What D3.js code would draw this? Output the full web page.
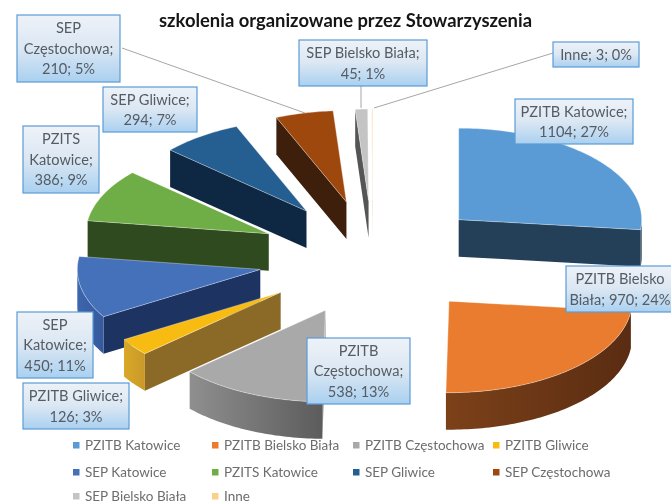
<!DOCTYPE html>
<html>
<head>
<meta charset="utf-8">
<script src="https://cdn.jsdelivr.net/npm/d3@7/dist/d3.min.js"></script>
<style>
html,body{margin:0;padding:0;background:#fff;overflow:hidden}
svg{display:block;filter:blur(0.65px)}
text{font-family:Lato,"Open Sans",sans-serif}
</style>
</head>
<body>
<svg id="c" width="671" height="504"></svg>
<script>
// ---- data ----
const titleText = "szkolenia organizowane przez Stowarzyszenia";
const categories = ["PZITB Katowice","PZITB Bielsko Biała","PZITB Częstochowa","PZITB Gliwice","SEP Katowice","PZITS Katowice","SEP Gliwice","SEP Częstochowa","SEP Bielsko Biała","Inne"];
const values = [1104,970,538,126,450,386,294,210,45,3];
const labelLines = [
  ["PZITB Katowice;","1104; 27%"],
  ["PZITB Bielsko","Biała; 970; 24%"],
  ["PZITB","Częstochowa;","538; 13%"],
  ["PZITB Gliwice;","126; 3%"],
  ["SEP","Katowice;","450; 11%"],
  ["PZITS","Katowice;","386; 9%"],
  ["SEP Gliwice;","294; 7%"],
  ["SEP","Częstochowa;","210; 5%"],
  ["SEP Bielsko Biała;","45; 1%"],
  ["Inne; 3; 0%"]
];
// ---- style ----
const topColors  = ["#5b9bd5","#e97c2e","#a9a9a9","#f8bb12","#4471ba","#6fad46","#255e91","#9e480e","#c4c4c4","#fbd08c"];
const wallColors = ["#243f58","#5e2f13","#6a6a6a","#8b6a28","#1d3463","#2f4a1f","#0e2743","#3e1f0b","#555555","#e8c48c"];
const sideFrom   = ["#243f58","#7c4119","#8f8f8f","#d9a827","#3d66ae","#3d6a28","#153a5c","#5a2c0c","#777777","#e8c48c"];
const sideTo     = ["#243f58","#5a2c12","#5c5c5c","#c9992a","#36599c","#3d6a28","#153a5c","#5a2c0c","#777777","#e8c48c"];
const drawOrder  = [0,1,2,9,8,7,6,5,4,3];
// ---- layout of the annotations ----
const labelBoxes = [
  [515,99,118,45],[566,266,108,46],[307,338,103,66],[23,383,106,46],[17,312,76,66],
  [23,126,76,67],[103,87,94,45],[17,15,103,67],[299,40,128,46],[553,42,86,25]
];
const leaders = {7:[[122,48],[305,113]],8:[[361,86],[361,108]],9:[[553,53],[374,108]]};
const legendCols = [73,212,353,493], legendRows = [445,472,496];

const W=671,H=504;
const svg=d3.select("#c");
const defs=svg.append("defs");

// squashed-circle projection of the exploded pie
const rx=183, ry=91.5, depth=37, explode=115/183, cx=373, cy=258;
const sx=d3.scaleLinear().domain([-1,1]).range([cx-rx,cx+rx]);
const sy=d3.scaleLinear().domain([-1,1]).range([cy-ry,cy+ry]);
const sz=d3.scaleLinear().domain([0,1]).range([0,depth]);

const pie=d3.pie().sort(null).value(d=>d).startAngle(0).endAngle(2*Math.PI);
const arcs=pie(values).map((a,i)=>{
  const a0=a.startAngle-Math.PI/2, a1=a.endAngle-Math.PI/2, m=(a0+a1)/2;
  return {i,a0,a1,ox:explode*Math.cos(m),oy:explode*Math.sin(m)};
});
const pt=(s,t,r,z)=>[sx(s.ox+r*Math.cos(t)), sy(s.oy+r*Math.sin(t))+sz(z)];
const line=d3.line();
const angles=(a,b)=>{const n=Math.max(2,Math.ceil((b-a)/0.02));return d3.range(n+1).map(k=>a+(b-a)*k/n);};

const gMarks=svg.append("g");
drawOrder.forEach(i=>{
  const s=arcs[i], g=gMarks.append("g");
  // radial walls that face the viewer
  const wall=t=>line([pt(s,t,0,0),pt(s,t,1,0),pt(s,t,1,1),pt(s,t,0,1)])+"Z";
  if(Math.cos(s.a0)<0) g.append("path").attr("d",wall(s.a0)).attr("fill",wallColors[i]);
  if(Math.cos(s.a1)>0) g.append("path").attr("d",wall(s.a1)).attr("fill",wallColors[i]);
  // rim
  const lo=Math.max(s.a0,0), hi=Math.min(s.a1,Math.PI);
  if(hi>lo){
    const id="rim"+i;
    const lg=defs.append("linearGradient").attr("id",id);
    lg.append("stop").attr("offset","0").attr("stop-color",sideFrom[i]);
    lg.append("stop").attr("offset","1").attr("stop-color",sideTo[i]);
    const as=angles(lo,hi);
    const rim=as.map(t=>pt(s,t,1,0)).concat(as.slice().reverse().map(t=>pt(s,t,1,1)));
    g.append("path").attr("d",line(rim)+"Z").attr("fill",`url(#${id})`);
  }
  // top
  const top=[pt(s,0,0,0)].concat(angles(s.a0,s.a1).map(t=>pt(s,t,1,0)));
  g.append("path").attr("d",line(top)+"Z").attr("fill",topColors[i])
    .attr("stroke","#ffffff").attr("stroke-opacity",0.45).attr("stroke-width",0.8).attr("stroke-linejoin","round");
});

// leader lines
Object.values(leaders).forEach(p=>{
  svg.append("path").attr("d",line(p)).attr("fill","none").attr("stroke","#a6a6a6").attr("stroke-width",1);
});

// data labels
const grad=defs.append("linearGradient").attr("id","lbl").attr("x1",0).attr("y1",0).attr("x2",0).attr("y2",1);
grad.append("stop").attr("offset","0").attr("stop-color","#eef2f8");
grad.append("stop").attr("offset","0.5").attr("stop-color","#dbe7f3");
grad.append("stop").attr("offset","1").attr("stop-color","#a9d0f0");
labelLines.forEach((lines,i)=>{
  const [x,y,w,h]=labelBoxes[i];
  const g=svg.append("g");
  g.append("rect").attr("x",x).attr("y",y).attr("width",w).attr("height",h)
    .attr("fill","url(#lbl)").attr("stroke","#5b9bd5").attr("stroke-width",1.2);
  const lh=20.5, y0=y+h/2-(lines.length-1)*lh/2;
  lines.forEach((t,k)=>{
    g.append("text").attr("x",x+w/2).attr("y",y0+k*lh).attr("dy","0.36em")
      .attr("text-anchor","middle").attr("font-size",14.6).attr("fill","#555c63").text(t);
  });
});

// title
svg.append("text").attr("x",345.5).attr("y",27).attr("text-anchor","middle")
  .attr("font-size",18.4).attr("font-weight",700).attr("fill","#151515").text(titleText);

// legend
categories.forEach((c,i)=>{
  const col=i<4?i:(i<8?i-4:i-8), row=i<4?0:(i<8?1:2);
  const x=legendCols[col], y=legendRows[row];
  svg.append("rect").attr("x",x).attr("y",y-3).attr("width",6.5).attr("height",6.5).attr("fill",topColors[i]);
  svg.append("text").attr("x",x+12).attr("y",y).attr("dy","0.36em").attr("font-size",13.5).attr("fill","#6d6d6d").text(c);
});
</script>
</body>
</html>
